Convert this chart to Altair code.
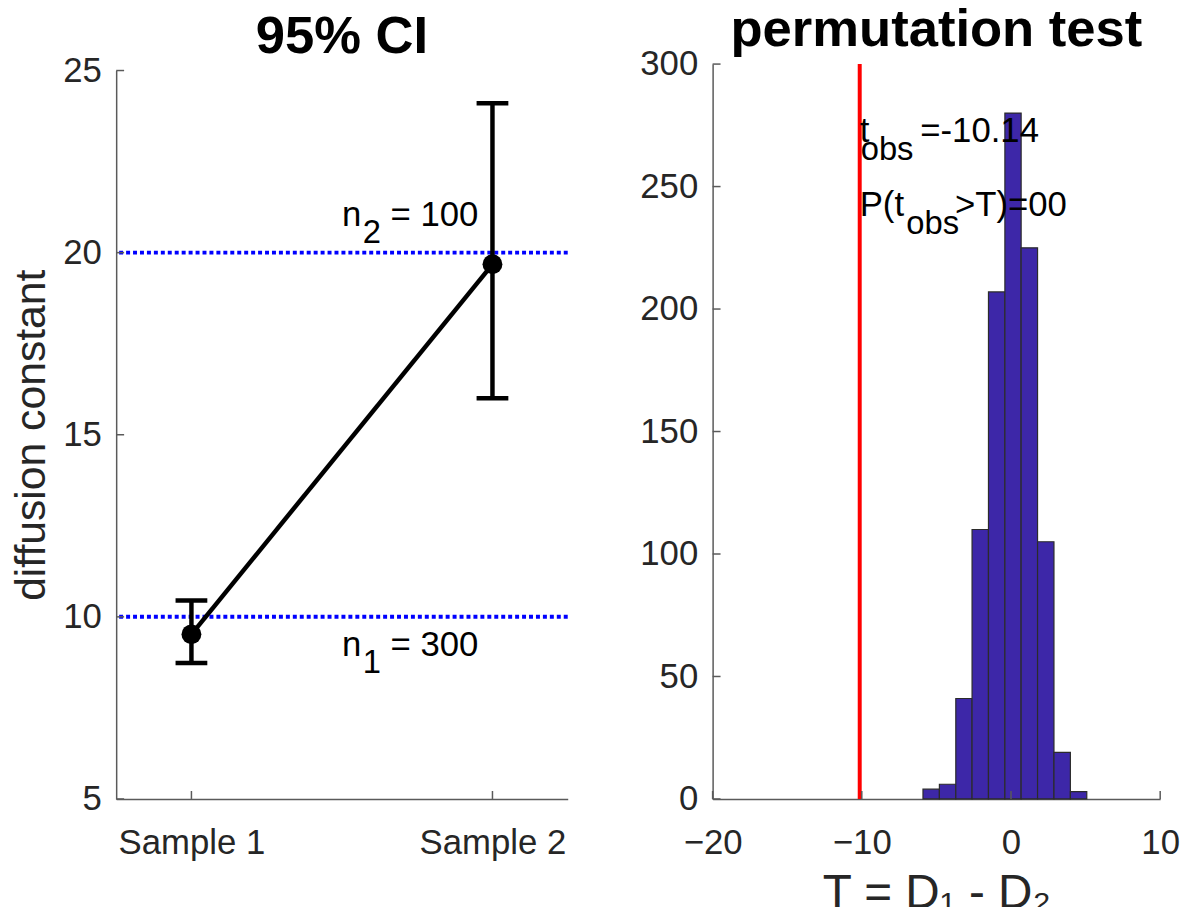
import altair as alt
import pandas as pd

# ---------------- data ----------------
samples = ["Sample 1", "Sample 2"]
sample_pos = [1, 2]
means = [9.52, 19.68]
ci_low = [8.73, 16.00]
ci_high = [10.45, 24.10]
n_sizes = [300, 100]
true_levels = [10, 20]

bin_edges = [-5.90, -4.80, -3.70, -2.61, -1.51, -0.41, 0.68, 1.78, 2.88, 3.98, 5.08]
counts = [4, 6, 41, 110, 207, 280, 225, 105, 19, 3]
t_obs = -10.14
p_value_text = "00"

left_yticks = [5, 10, 15, 20, 25]
right_xticks = [-20, -10, 0, 10]
right_yticks = [0, 50, 100, 150, 200, 250, 300]

# ---------------- style ----------------
FONT = "Liberation Sans"
AX = "#5a5a5a"
TXT = "#262626"
FS = 35
SUB = 33
LW, RW = 455, 451
H = 740.5
LEFT_TOP = 6.5

samp = pd.DataFrame({"pos": sample_pos, "name": samples, "mean": means,
                     "lo": ci_low, "hi": ci_high, "n": n_sizes})
levels = pd.DataFrame({"level": true_levels})
hist = pd.DataFrame({"x0": bin_edges[:-1], "x1": bin_edges[1:], "count": counts})

lx_scale = alt.Scale(domain=[0.75, 2.25], nice=False, zero=False)
ly_scale = alt.Scale(domain=[5, 25], nice=False, zero=False, range=[H, LEFT_TOP])
rx_scale = alt.Scale(domain=[-20, 10], nice=False, zero=False)
ry_scale = alt.Scale(domain=[0, 300], nice=False, zero=False)

label_expr = "".join(f"datum.value == {p} ? '{s}' : " for p, s in zip(sample_pos, samples)) + "''"

common_axis = dict(grid=False, ticks=False, domainColor=AX, domainWidth=1.5,
                   labelColor=TXT, labelFont=FONT, labelFontSize=FS,
                   labelFlush=False, labelOverlap=False, labelBound=False,
                   titleFont=FONT, titleColor=TXT, titleFontWeight="normal",
                   titleFontSize=43)

lx_axis = alt.Axis(values=sample_pos, labelExpr=label_expr, title=None,
                   labelPadding=27, **common_axis)
ly_axis = alt.Axis(values=left_yticks, title="diffusion constant", labelPadding=15,
                   titleAngle=270, titleBaseline="alphabetic", titleX=-72,
                   titleY=(H + LEFT_TOP) / 2, **common_axis)
rx_axis = alt.Axis(values=right_xticks, title="T = D₁ - D₂", labelPadding=27,
                   titleBaseline="alphabetic", titleX=RW / 2, titleY=109,
                   **{**common_axis, "titleFontSize": 48})
ry_axis = alt.Axis(values=right_yticks, title=None, labelPadding=15, **common_axis)


def LX(f):
    return alt.X(f, scale=lx_scale, axis=lx_axis)


def LY(f):
    return alt.Y(f, scale=ly_scale, axis=ly_axis)


def RX(f):
    return alt.X(f, scale=rx_scale, axis=rx_axis)


def RY(f):
    return alt.Y(f, scale=ry_scale, axis=ry_axis)


# ---------------- left panel ----------------
ref_lines = alt.Chart(levels).mark_rule(color="#0000ff", strokeWidth=4, strokeDash=[4, 3]).encode(
    y=LY("level:Q")
)
err = alt.Chart(samp).mark_rule(color="black", strokeWidth=4.5).encode(
    x=LX("pos:Q"), y=LY("lo:Q"), y2="hi:Q",
)
cap_lo = alt.Chart(samp).mark_tick(orient="horizontal", size=32, thickness=4.5, color="black", opacity=1).encode(
    x=LX("pos:Q"), y=LY("lo:Q"),
)
cap_hi = alt.Chart(samp).mark_tick(orient="horizontal", size=32, thickness=4.5, color="black", opacity=1).encode(
    x=LX("pos:Q"), y=LY("hi:Q"),
)
line = alt.Chart(samp).mark_line(color="black", strokeWidth=4.5).encode(
    x=LX("pos:Q"), y=LY("mean:Q"),
)
pts = alt.Chart(samp).mark_circle(color="black", size=400, opacity=1).encode(
    x=LX("pos:Q"), y=LY("mean:Q"),
)


def txt(df, X, Y, field, dx=0, dy=0, size=FS):
    return alt.Chart(df).mark_text(align="left", baseline="alphabetic", font=FONT,
                                   fontSize=size, color="black", dx=dx, dy=dy).encode(
        x=X("tx:Q"), y=Y("ty:Q"), text=f"{field}:N",
    )


ann_left = pd.DataFrame({
    "tx": [1.5, 1.5],
    "ty": [20.73, 8.92],
    "main": ["n", "n"],
    "sub": ["2", "1"],
    "rest": [f"= {n_sizes[1]}", f"= {n_sizes[0]}"],
})
left_text = (txt(ann_left, LX, LY, "main")
             + txt(ann_left, LX, LY, "sub", dx=21, dy=17, size=SUB)
             + txt(ann_left, LX, LY, "rest", dx=49))

lyt = pd.DataFrame({"v": left_yticks})
lxt = pd.DataFrame({"v": sample_pos})
left_ticks = alt.Chart(lyt).mark_tick(orient="horizontal", size=8, thickness=1.5, color=AX, opacity=1).encode(
    y=LY("v:Q"), x=alt.value(4)
) + alt.Chart(lxt).mark_tick(orient="vertical", size=8, thickness=1.5, color=AX, opacity=1).encode(
    x=LX("v:Q"), y=alt.value(H - 4)
)

left = alt.layer(ref_lines, err, cap_lo, cap_hi, line, pts, left_text, left_ticks).properties(
    width=LW, height=H,
    title=alt.Title("95% CI", font=FONT, fontSize=53, fontWeight="bold", color="black",
                    offset=-52, baseline="alphabetic"),
)

# ---------------- right panel ----------------
bars = alt.Chart(hist).mark_rect(color="#3d27a8", stroke="#2b2b2b", strokeWidth=1.2).encode(
    x=RX("x0:Q"), x2="x1:Q", y=RY("count:Q"), y2=alt.datum(0),
)
tline = alt.Chart(pd.DataFrame({"t": [t_obs]})).mark_rule(color="#ff0000", strokeWidth=4).encode(
    x=RX("t:Q")
)
ann_right = pd.DataFrame({
    "tx": [t_obs, t_obs],
    "ty": [268, 238],
    "main": ["t", "P(t"],
    "sub": ["obs", "obs"],
    "rest": [f"={t_obs:.2f}", f">T)={p_value_text}"],
})
r1 = ann_right.iloc[[0]]
r2 = ann_right.iloc[[1]]
right_text = (txt(r1, RX, RY, "main")
              + txt(r1, RX, RY, "sub", dx=1, dy=18, size=SUB)
              + txt(r1, RX, RY, "rest", dx=61)
              + txt(r2, RX, RY, "main")
              + txt(r2, RX, RY, "sub", dx=47, dy=18, size=SUB)
              + txt(r2, RX, RY, "rest", dx=96))

ryt = pd.DataFrame({"v": right_yticks})
rxt = pd.DataFrame({"v": right_xticks})
right_ticks = alt.Chart(ryt).mark_tick(orient="horizontal", size=8, thickness=1.5, color=AX, opacity=1).encode(
    y=RY("v:Q"), x=alt.value(4)
) + alt.Chart(rxt).mark_tick(orient="vertical", size=8, thickness=1.5, color=AX, opacity=1).encode(
    x=RX("v:Q"), y=alt.value(H - 4)
)

right = alt.layer(bars, tline, right_text, right_ticks).properties(
    width=RW, height=H,
    title=alt.Title("permutation test", font=FONT, fontSize=53, fontWeight="bold", color="black",
                    offset=-52, baseline="alphabetic"),
)

chart = alt.hconcat(left, right, spacing=70).properties(
    padding={"left": 3, "top": -7, "right": 5, "bottom": 5}, background="white"
).configure_view(stroke=None)

chart.save("out.html", embed_options={"renderer": "svg", "actions": False})
